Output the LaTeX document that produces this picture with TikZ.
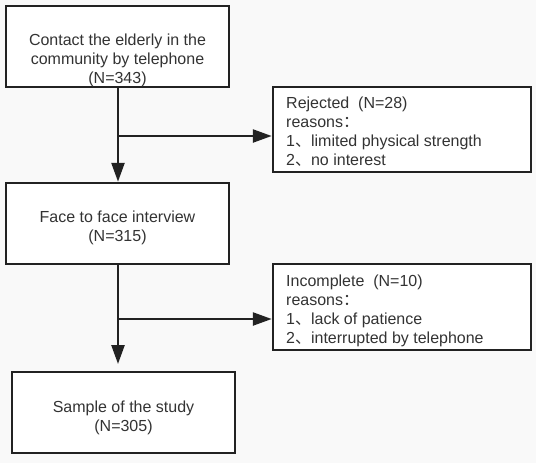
\documentclass[tikz,border=0pt]{standalone}
\usepackage{fontspec}
\setmainfont{Liberation Sans}
\newfontfamily\cjk{Noto Sans CJK SC}
\usetikzlibrary{arrows.meta}
\definecolor{bg}{HTML}{F9F9F9}
\definecolor{ln}{HTML}{222222}
\definecolor{tx}{HTML}{333333}
\newcommand{\dun}{{\cjk 、}}
\newcommand{\mao}{{\cjk ：}}
\tikzset{
  box/.style={draw=ln, line width=2.5pt, fill=white, inner sep=0pt},
  lbl/.style={inner sep=0pt, text=tx, font=\fontsize{16}{19}\selectfont, align=center},
  flow/.style={draw=ln, line width=2.5pt, -{Triangle[length=19pt,width=13pt]}},
  plain/.style={draw=ln, line width=2.5pt}
}
\begin{document}
\begin{tikzpicture}[x=1pt,y=-1pt]
\fill[bg] (0,0) rectangle (536,463);
\useasboundingbox (0,0) rectangle (536,463);
% boxes
\node[box, minimum width=223pt, minimum height=81pt] (b1) at (117.5,46.5) {};
\node[box, minimum width=258pt, minimum height=85pt] (r1) at (402,129.5) {};
\node[box, minimum width=223pt, minimum height=81pt] (b2) at (117.5,223.5) {};
\node[box, minimum width=258pt, minimum height=86pt] (r2) at (402,307) {};
\node[box, minimum width=223pt, minimum height=81pt] (b3) at (123.5,412.5) {};
% texts (anchor base = baseline of last line)
\node[lbl, anchor=base] (t1) at (117.5,83) {Contact the elderly in the\\community by telephone\\(N=343)};
\node[lbl, anchor=base] (t2) at (117.5,241) {Face to face interview\\(N=315)};
\node[lbl, anchor=base] (t3) at (123.5,431) {Sample of the study\\(N=305)};
\node[lbl, anchor=base west, align=left] (tr1) at (286,165) {Rejected\ \ (N=28)\\reasons\mao\\1\dun limited physical strength\\2\dun no interest};
\node[lbl, anchor=base west, align=left] (tr2) at (286,343) {Incomplete\ \ (N=10)\\reasons\mao\\1\dun lack of patience\\2\dun interrupted by telephone};
% connectors
\coordinate (j1) at (118,136);
\coordinate (j2) at (118,319);
\coordinate (e3) at (118,364);
\draw[flow] (b1.south -| j1) -- (b2.north -| j1);
\draw[flow] (j1) -- (j1 -| r1.west);
\draw[plain] (b2.south -| j2) -- (j2);
\draw[flow] (j2) -- (e3);
\draw[flow] (j2) -- (j2 -| r2.west);
\end{tikzpicture}
\end{document}
